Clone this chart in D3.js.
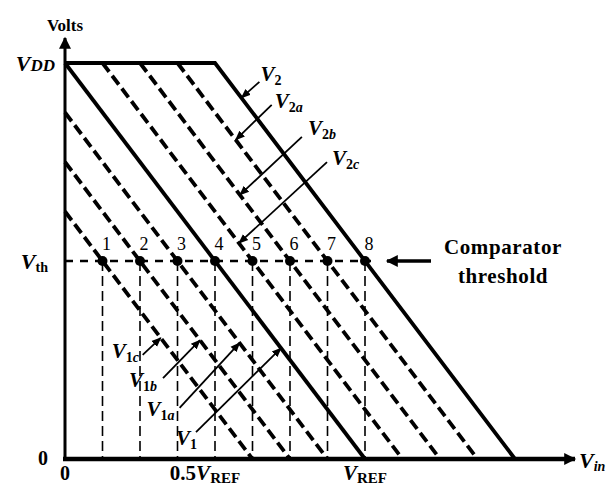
<!DOCTYPE html>
<html>
<head>
<meta charset="utf-8">
<script src="https://cdn.jsdelivr.net/npm/d3@7"></script>
<style>
  html, body { margin: 0; padding: 0; background: #fff; }
  svg { display: block; }
  text { font-family: "Liberation Serif", "DejaVu Serif", serif; fill: #000; }
</style>
</head>
<body>
<svg id="chart" width="610" height="488"></svg>
<script>
// ---------------- data (normalised: VREF = 1, VDD = 1) ----------------
const lineNames      = ["V1c", "V1b", "V1a", "V1", "V2c", "V2b", "V2a", "V2"];
const lineIntercepts = [0.625, 0.75, 0.875, 1.0, 1.125, 1.25, 1.375, 1.5]; // Vin where output reaches 0
const vdd = 1.0;
const vth = 0.5;
const pointLabels = ["1", "2", "3", "4", "5", "6", "7", "8"];
const xTickValues = [0, 0.5, 1];
const xTickMain   = ["0", "0.5V", "V"];
const xTickSub    = ["", "REF", "REF"];
const yTickValues = [0, 0.5, 1];
const yTickMain   = ["0", "V", "V"];
const yTickSub    = ["", "th", "DD"];
// output level at which each label's arrow touches its line
const arrowTouchV = [0.306, 0.300, 0.293, 0.280, 0.545, 0.667, 0.806, 0.912];

// ---------------- layout ----------------
const svg = d3.select("#chart");
const x = d3.scaleLinear().domain([0, 1]).range([65, 365]);
const y = d3.scaleLinear().domain([0, 1]).range([459, 63]);

const defs = svg.append("defs");
defs.append("marker").attr("id", "ah").attr("viewBox", "0 0 10 10")
  .attr("refX", 9).attr("refY", 5).attr("markerWidth", 10).attr("markerHeight", 10)
  .attr("markerUnits", "userSpaceOnUse").attr("orient", "auto")
  .append("path").attr("d", "M0,1 L10,5 L0,9 Z").attr("fill", "#000");
defs.append("marker").attr("id", "ahBig").attr("viewBox", "0 0 10 10")
  .attr("refX", 9).attr("refY", 5).attr("markerWidth", 14).attr("markerHeight", 12)
  .attr("markerUnits", "userSpaceOnUse").attr("orient", "auto")
  .append("path").attr("d", "M0,0 L10,5 L0,10 Z").attr("fill", "#000");

// line geometry: Vout = VDD*(b - Vin), clipped to [0, VDD] and Vin >= 0
function linePoints(b) {
  const pts = [];
  if (b > vdd) { pts.push([0, vdd]); pts.push([b - vdd, vdd]); }
  else if (Math.abs(b - vdd) < 1e-9) { pts.push([0, vdd]); }
  else { pts.push([0, b]); }
  pts.push([b, 0]);
  return pts;
}
const lineGen = d3.line().x(d => x(d[0])).y(d => y(d[1]));

// dashed lines first
lineIntercepts.forEach((b, i) => {
  const solid = lineNames[i] === "V1" || lineNames[i] === "V2";
  if (solid) return;
  let pts = linePoints(b);
  if (b > vdd) pts = pts.slice(1); // top portion belongs to V2's horizontal
  svg.append("path").attr("d", lineGen(pts)).attr("fill", "none")
    .attr("stroke", "#000").attr("stroke-width", 3.8)
    .attr("stroke-dasharray", "11,5");
});
// solid V1 and V2
lineIntercepts.forEach((b, i) => {
  const solid = lineNames[i] === "V1" || lineNames[i] === "V2";
  if (!solid) return;
  svg.append("path").attr("d", lineGen(linePoints(b))).attr("fill", "none")
    .attr("stroke", "#000").attr("stroke-width", 3.8)
    .attr("stroke-linejoin", "miter");
});

// threshold crossings
const crossings = lineIntercepts.map(b => b - vth);

// vertical thin dashed
crossings.forEach(c => {
  svg.append("line").attr("x1", x(c)).attr("x2", x(c))
    .attr("y1", y(vth)).attr("y2", y(0))
    .attr("stroke", "#000").attr("stroke-width", 1.6)
    .attr("stroke-dasharray", "10,5");
});
// horizontal threshold dashed
svg.append("line").attr("x1", x(0)).attr("x2", x(d3.max(crossings)) + 6)
  .attr("y1", y(vth)).attr("y2", y(vth))
  .attr("stroke", "#000").attr("stroke-width", 2.4)
  .attr("stroke-dasharray", "8,7");

// dots and numbers
crossings.forEach((c, i) => {
  svg.append("circle").attr("cx", x(c)).attr("cy", y(vth)).attr("r", 5).attr("fill", "#000");
  svg.append("text").attr("x", x(c) + 4).attr("y", y(vth) - 11)
    .attr("text-anchor", "middle").attr("font-size", 18).text(pointLabels[i]);
});

// axes
const xAxis = d3.axisBottom(x).tickValues(xTickValues).tickSize(0).tickFormat("");
const gx = svg.append("g").attr("transform", `translate(0,${y(0)})`).call(xAxis);
gx.select(".domain").remove();
svg.append("line").attr("x1", x(0) - 2).attr("x2", 575).attr("y1", y(0)).attr("y2", y(0))
  .attr("stroke", "#000").attr("stroke-width", 4.5).attr("marker-end", "url(#ahBig)");
const yAxis = d3.axisLeft(y).tickValues(yTickValues).tickSize(0).tickFormat("");
const gy = svg.append("g").attr("transform", `translate(${x(0)},0)`).call(yAxis);
gy.select(".domain").remove();
svg.append("line").attr("x1", x(0)).attr("x2", x(0)).attr("y1", y(0) + 2).attr("y2", 38)
  .attr("stroke", "#000").attr("stroke-width", 3).attr("marker-end", "url(#ahBig)");

// label helper: main + subscript
function label(px, py, main, sub, opts = {}) {
  const t = svg.append("text").attr("x", px).attr("y", py)
    .attr("text-anchor", opts.anchor || "start")
    .attr("font-size", opts.size || 22).attr("font-weight", "bold");
  const italicMain = main.startsWith("V") || main.endsWith("V");
  if (main.endsWith("V") && main.length > 1) {
    t.append("tspan").text(main.slice(0, -1));
    t.append("tspan").attr("font-style", "italic").text("V");
  } else {
    t.append("tspan").attr("font-style", italicMain ? "italic" : "normal").text(main);
  }
  if (sub) {
    t.append("tspan").attr("dy", opts.subDy || 5).attr("font-size", opts.subSize || 15)
      .attr("font-style", opts.subItalic ? "italic" : "normal")
      .text(sub);
  }
  return t;
}

// x tick labels
xTickValues.forEach((v, i) => {
  const dx = i === 1 ? -10 : 0;
  label(x(v) + dx, 480, xTickMain[i], xTickSub[i],
    { anchor: "middle", size: i === 0 ? 20 : 21, subSize: 15, subDy: 3 });
});
// y tick labels
label(55, y(1) + 8, yTickMain[2], yTickSub[2], { anchor: "end", size: 22, subItalic: true, subSize: 17, subDy: 0.01 });
label(48, y(vth) + 8, yTickMain[1], yTickSub[1], { anchor: "end", size: 22, subSize: 14, subDy: 3 });
label(43, y(0) + 6, yTickMain[0], "", { anchor: "middle", size: 20 });

// axis titles
svg.append("text").attr("x", 65).attr("y", 31).attr("text-anchor", "middle")
  .attr("font-size", 17).attr("font-weight", "bold").text("Volts");
svg.append("text").attr("x", 579).attr("y", 468).attr("font-size", 22)
  .attr("font-weight", "bold").attr("font-style", "italic")
  .call(t => { t.append("tspan").text("V"); t.append("tspan").attr("dy", 3).attr("font-size", 14).text("in"); });

// annotation leaders: V2 group up-right, V1 group down-left
const leaderVec = { V2: [18, -16], V2a: [36, -35], V2b: [62, -58], V2c: [88, -81],
                    V1c: [-18, 17], V1b: [-37, 38], V1a: [-60, 65], V1: [-85, 84] };
const labelOff  = { V2: [1, -1], V2a: [3, 3], V2b: [6, -2], V2c: [5, 3],
                    V1c: [-31, 3], V1b: [-34, 9], V1a: [-33, 8], V1: [-20, 13] };
lineNames.forEach((name, i) => {
  const b = lineIntercepts[i];
  const v = arrowTouchV[i];
  const tx = x(b - v), ty = y(v);
  const [dx, dy] = leaderVec[name];
  const ex = tx + dx, ey = ty + dy;
  svg.append("line").attr("x1", ex).attr("y1", ey).attr("x2", tx).attr("y2", ty)
    .attr("stroke", "#000").attr("stroke-width", 1.8).attr("marker-end", "url(#ah)");
  const [ox, oy] = labelOff[name];
  const sub = name.slice(1);
  const t = svg.append("text").attr("x", ex + ox).attr("y", ey + oy)
    .attr("font-size", 21).attr("font-weight", "bold");
  t.append("tspan").attr("font-style", "italic").text("V");
  t.append("tspan").attr("dy", 4).attr("font-size", 14).text(sub[0]);
  if (sub.length > 1) t.append("tspan").attr("font-size", 14).attr("font-style", "italic").text(sub.slice(1));
});

// comparator threshold annotation
svg.append("line").attr("x1", 431).attr("x2", 387).attr("y1", y(vth)).attr("y2", y(vth))
  .attr("stroke", "#000").attr("stroke-width", 3.5).attr("marker-end", "url(#ahBig)");
svg.append("text").attr("x", 503).attr("y", 254).attr("text-anchor", "middle")
  .attr("font-size", 21).attr("letter-spacing", 0.6).attr("font-weight", "bold").text("Comparator");
svg.append("text").attr("x", 503).attr("y", 283).attr("text-anchor", "middle")
  .attr("font-size", 21).attr("letter-spacing", 0.6).attr("font-weight", "bold").text("threshold");
</script>
</body>
</html>
